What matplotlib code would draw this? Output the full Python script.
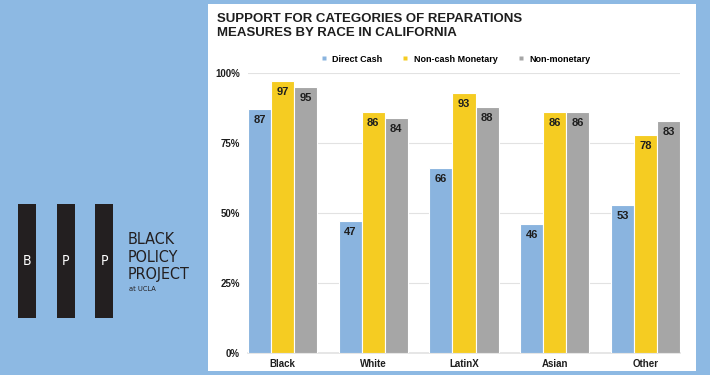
import matplotlib
matplotlib.use('Agg')
import matplotlib.pyplot as plt
from matplotlib.patches import Rectangle
from matplotlib.lines import Line2D
import numpy as np

# --- データ ---
races = ['Black', 'White', 'LatinX', 'Asian', 'Other']
series_names = ['Direct Cash', 'Non-cash Monetary', 'Non-monetary']
direct_cash = [87, 47, 66, 46, 53]
non_cash_monetary = [97, 86, 93, 86, 78]
non_monetary = [95, 84, 88, 86, 83]
y_ticks = [0, 25, 50, 75, 100]
y_tick_labels = ['0%', '25%', '50%', '75%', '100%']

colors = ['#8ab4df', '#f5cc22', '#a6a6a6']
bg_blue = '#8db9e3'
text_dark = '#1e1e1e'

W, H = 710, 375

def fx(x):
    return x / W

def fy(y):
    return 1 - y / H

plt.rcParams['font.family'] = ['Liberation Sans', 'DejaVu Sans']

fig = plt.figure(figsize=(7.1, 3.75), dpi=100)
fig.patch.set_facecolor(bg_blue)

# 白いパネル
fig.patches.append(Rectangle((fx(208), fy(371)), fx(696) - fx(208), fy(4) - fy(371),
                             transform=fig.transFigure, facecolor='white',
                             edgecolor='none', zorder=0))

# --- ロゴ ---
logo_font = dict(family='DejaVu Sans', fontstretch='condensed')
for x0, letter in zip([17.5, 56.5, 95.5], ['B', 'P', 'P']):
    fig.patches.append(Rectangle((fx(x0), fy(318)), fx(18), fy(204) - fy(318),
                                 transform=fig.transFigure, facecolor='#231f20',
                                 edgecolor='none', zorder=1))
    fig.text(fx(x0 + 9), fy(261), letter, color='white', fontsize=10,
             ha='center', va='center', **logo_font)

for yy, word in zip([240, 257, 274], ['BLACK', 'POLICY', 'PROJECT']):
    fig.text(fx(128), fy(yy), word, color='#231f20', fontsize=11.5,
             ha='left', va='center', **logo_font)
fig.text(fx(129), fy(289), 'at UCLA', color='#231f20', fontsize=5.3,
         ha='left', va='center', **logo_font)

# --- タイトル ---
fig.text(fx(217), fy(26), 'SUPPORT FOR CATEGORIES OF REPARATIONS\nMEASURES BY RACE IN CALIFORNIA',
         fontsize=9.5, fontweight='bold', color=text_dark, ha='left', va='center',
         linespacing=1.3)

# --- グラフ ---
ax = fig.add_axes([fx(248), fy(353), fx(680) - fx(248), fy(73) - fy(353)])
ax.set_facecolor('none')
ax.set_zorder(5)

x = np.arange(len(races))
bw = 0.254
all_series = [direct_cash, non_cash_monetary, non_monetary]
for i, (vals, c) in enumerate(zip(all_series, colors)):
    pos = x + (i - 1) * bw
    ax.bar(pos, vals, width=bw, color=c, edgecolor='white', linewidth=0.8, zorder=3)
    for p, v in zip(pos, vals):
        ax.text(p, v - 3.9, str(v), ha='center', va='center', fontsize=8,
                fontweight='bold', color=text_dark, zorder=4)

ax.set_xlim(-1.5 * bw, len(races) - 1 + 1.5 * bw)
ax.set_ylim(0, 100)
ax.set_yticks(y_ticks)
ax.set_yticklabels(y_tick_labels, fontsize=7, fontweight='bold', color=text_dark)
ax.set_xticks(x)
ax.set_xticklabels(races, fontsize=7, fontweight='bold', color=text_dark)
ax.tick_params(axis='both', length=0)
ax.tick_params(axis='y', pad=6)
ax.tick_params(axis='x', pad=4)
ax.grid(axis='y', color='#e2e2e2', linewidth=0.8, zorder=0)
ax.set_axisbelow(True)
for s in ['top', 'right', 'left']:
    ax.spines[s].set_visible(False)
ax.spines['bottom'].set_color('#e2e2e2')
ax.spines['bottom'].set_linewidth(1.2)

handles = [Line2D([0], [0], marker='s', linestyle='none', markersize=3.5,
                  markerfacecolor=c, markeredgecolor='none') for c in colors]
fig.legend(handles, series_names, loc='center', bbox_to_anchor=(fx(455), fy(59)),
           ncol=3, frameon=False, handlelength=0.8, handletextpad=0.5,
           columnspacing=2.2, prop={'weight': 'bold', 'size': 6.5})

fig.savefig('out.png', dpi=100, facecolor=fig.get_facecolor())
